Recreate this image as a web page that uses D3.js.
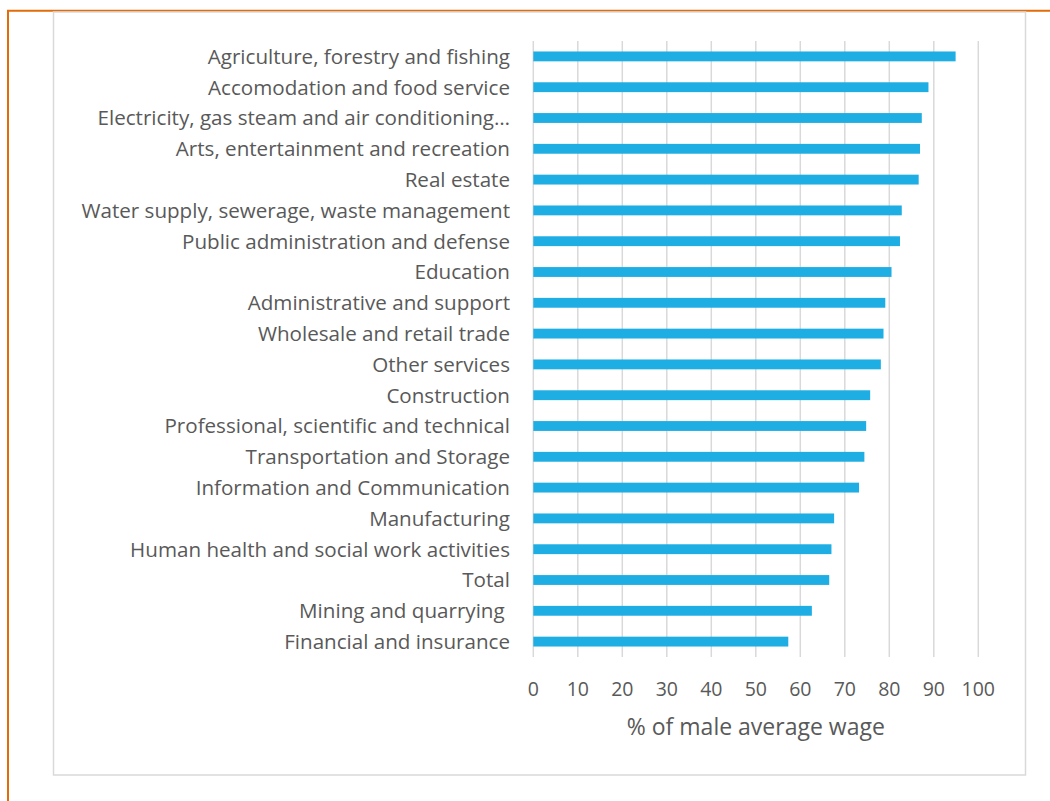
<!DOCTYPE html>
<html>
<head>
<meta charset="utf-8">
<script src="https://cdn.jsdelivr.net/npm/d3@7"></script>
<style>
  html, body { margin: 0; padding: 0; background: #fff; }
  svg { display: block; }
  text { font-family: "Open Sans", sans-serif; fill: #595959; white-space: pre; }
</style>
</head>
<body>
<svg id="chart" width="1050" height="801"></svg>
<script>
const categories = [
  "Agriculture, forestry and fishing",
  "Accomodation and food service",
  "Electricity, gas steam and air conditioning…",
  "Arts, entertainment and recreation",
  "Real estate",
  "Water supply, sewerage, waste management",
  "Public administration and defense",
  "Education",
  "Administrative and support",
  "Wholesale and retail trade",
  "Other services",
  "Construction",
  "Professional, scientific and technical",
  "Transportation and Storage",
  "Information and Communication",
  "Manufacturing",
  "Human health and social work activities",
  "Total",
  "Mining and quarrying ",
  "Financial and insurance"
];
const values = [94.9, 88.8, 87.3, 86.9, 86.6, 82.8, 82.4, 80.5, 79.1, 78.7,
                78.1, 75.7, 74.8, 74.4, 73.2, 67.6, 67.0, 66.5, 62.6, 57.3];
const tickValues = [0, 10, 20, 30, 40, 50, 60, 70, 80, 90, 100];
const axisTitle = "% of male average wage";

const svg = d3.select("#chart");

// outer orange frame (left and top edges visible)
svg.append("path")
  .attr("d", "M8,801 L8,10.8 L1050,10.8")
  .attr("fill", "none").attr("stroke", "#e36c0a").attr("stroke-width", 2);

// chart area border
svg.append("rect")
  .attr("x", 53.5).attr("y", 12).attr("width", 972).attr("height", 763)
  .attr("fill", "#fff").attr("stroke", "#d9d9d9").attr("stroke-width", 1.5);

const x = d3.scaleLinear().domain([0, 100]).range([533.3, 978.3]);
const y = d3.scaleBand().domain(categories).range([41, 657])
  .paddingInner(0.68).paddingOuter(0.34);

// gridlines
svg.append("g").selectAll("line").data(tickValues).join("line")
  .attr("x1", d => x(d)).attr("x2", d => x(d))
  .attr("y1", 41).attr("y2", 657)
  .attr("stroke", "#d9d9d9").attr("stroke-width", 1.5);

// bars
svg.append("g").selectAll("rect").data(categories).join("rect")
  .attr("x", x(0))
  .attr("y", d => y(d))
  .attr("width", (d, i) => x(values[i]) - x(0))
  .attr("height", y.bandwidth())
  .attr("fill", "#1eaee4");

// category labels
svg.append("g").selectAll("text").data(categories).join("text")
  .attr("x", 510)
  .attr("y", d => y(d) + y.bandwidth() / 2)
  .attr("dy", "0.36em")
  .attr("text-anchor", "end")
  .style("font-size", "20.6px")
  .text(d => d);

// x tick labels
svg.append("g").selectAll("text").data(tickValues).join("text")
  .attr("x", d => x(d))
  .attr("y", 696)
  .attr("text-anchor", "middle")
  .style("font-size", "19.5px")
  .text(d => d);

// axis title
svg.append("text")
  .attr("x", (x(0) + x(100)) / 2)
  .attr("y", 735)
  .attr("text-anchor", "middle")
  .style("font-size", "23px")
  .text(axisTitle);
</script>
</body>
</html>
